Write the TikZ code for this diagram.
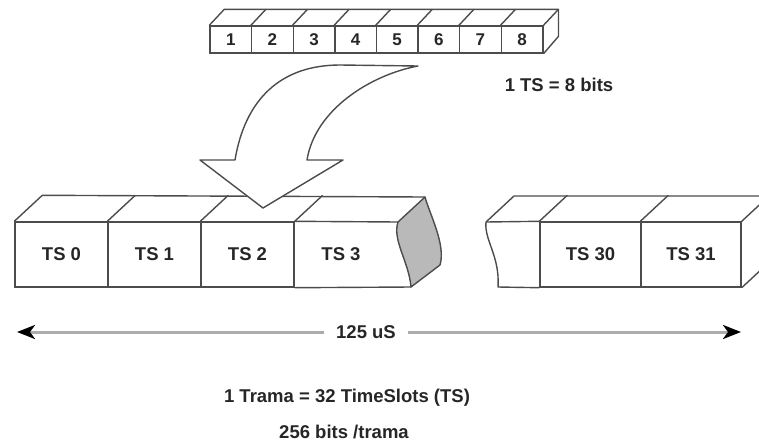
\documentclass[tikz,border=0pt]{standalone}
\usepackage{fontspec}
\setmainfont{Liberation Sans}
\usetikzlibrary{arrows.meta, calc}

\begin{document}
\begin{tikzpicture}[
    x=1pt, y=-1pt,
    font=\fontsize{18.5}{22}\selectfont\bfseries,
    edge/.style={draw=black!70, line width=1.4pt, line join=round},
    bitcell/.style={
        rectangle,
        draw=black!70,
        line width=1.4pt,
        minimum width=41.6pt,
        minimum height=27pt,
        inner sep=0pt,
        text=black!85,
        font=\fontsize{17}{20}\selectfont\bfseries
    },
    slot/.style={
        rectangle,
        draw=black!70,
        line width=1.4pt,
        minimum height=65pt,
        inner sep=0pt,
        text=black!85
    },
    txt/.style={inner sep=2pt, text=black!85},
    cutface/.style={edge, fill=gray!55},
    bigarrow/.style={edge, fill=white},
    tline/.style={-{Stealth[length=18pt, width=14pt, inset=5pt, color=black]}, line width=3pt, draw=gray!65}
]

\clip (0,0) rectangle (759,442);

% === TOP: ONE TIMESLOT ===
\node (b1) [bitcell] at (230.8,39.5) {1};
\node (b2) [bitcell] at (272.4,39.5) {2};
\node (b3) [bitcell] at (314.0,39.5) {3};
\node (b4) [bitcell] at (355.6,39.5) {4};
\node (b5) [bitcell] at (397.2,39.5) {5};
\node (b6) [bitcell] at (438.8,39.5) {6};
\node (b7) [bitcell] at (480.4,39.5) {7};
\node (b8) [bitcell] at (522.0,39.5) {8};

\draw [edge] (b1.north west) -- ++(15,-16) -- ([shift={(15,-16)}]b8.north east) -- ++(0,27) -- (b8.south east);
\draw [edge] (b2.north west) -- ++(15,-16) (b3.north west) -- ++(15,-16)
    (b4.north west) -- ++(15,-16) (b5.north west) -- ++(15,-16)
    (b6.north west) -- ++(15,-16) (b7.north west) -- ++(15,-16)
    (b8.north west) -- ++(15,-16) (b8.north east) -- ++(15,-16);

\node (tsbits) [txt] at (559,85) {1 TS = 8 bits};

% === BOTTOM: FRAME, FIRST PART ===
\node (ts0) [slot, minimum width=93pt] at (61.5,254.5) {TS 0};
\node (ts1) [slot, minimum width=93pt] at (154.5,254.5) {TS 1};
\node (ts2) [slot, minimum width=93pt] at (247.5,254.5) {TS 2};
\node (ts3) [txt] at (341,254.5) {TS 3};

\coordinate (cut1) at (398,222);
\coordinate (cut2) at (411,287);
\coordinate (cut3) at (440,265);
\coordinate (cut4) at (425,197);

\draw [edge] (ts2.north east) -- (cut1) (ts2.south east) -- (cut2);
\draw [edge] (ts0.north west) -- ++(28,-26) -- (cut4);
\draw [edge] (ts1.north west) -- ++(28,-26) (ts2.north west) -- ++(28,-26)
    (ts2.north east) -- ++(28,-26);
\draw [cutface] (cut1) .. controls (392,240) and (409,262) .. (cut2) -- (cut3)
    .. controls (446,245) and (430,215) .. (cut4) -- cycle;

% === BOTTOM: FRAME, LAST PART ===
\node (ts30) [slot, minimum width=101pt] at (590.5,254.5) {TS 30};
\node (ts31) [slot, minimum width=100pt] at (691,254.5) {TS 31};

\coordinate (brk1) at (486,222);
\coordinate (brk2) at (498,287);

\draw [edge] (ts30.north west) -- (brk1) .. controls (484,240) and (500,256) .. (brk2) -- (ts30.south west);
\draw [edge] (brk1) -- ++(28,-26) -- ++(300,0);
\draw [edge] (ts30.north west) -- ++(28,-26) (ts31.north west) -- ++(28,-26)
    (ts31.north east) -- ++(28,-26) (ts31.south east) -- ++(28,-26);

% === CURVED ARROW ===
\coordinate (tail) at (418,66);
\coordinate (tip) at (263,208);
\draw [bigarrow] (tail) .. controls (370,75) and (315,110) .. (307,160) -- (343,160) -- (tip)
    -- (200,160) -- (235,160) .. controls (245,100) and (280,65) .. (340,65) -- cycle;

% === DURATION ===
\coordinate (tl) at (17,332);
\coordinate (tr) at (741,332);
\node (period) [txt, inner xsep=12pt] at (366,332) {125 uS};
\draw [tline] (period.west) -- (tl);
\draw [tline] (period.east) -- (tr);

\node (trama) [txt] at (347,398) {1 Trama = 32 TimeSlots (TS)};
\node (bits) [txt] at (344,432) {256 bits /trama};

\end{tikzpicture}
\end{document}
